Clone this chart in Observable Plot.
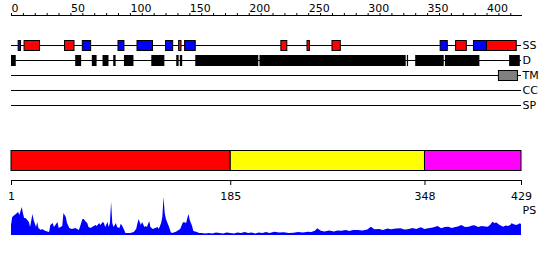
<!DOCTYPE html>
<html><head><meta charset="utf-8">
<script src="https://cdn.jsdelivr.net/npm/d3@7"></script>
<script src="https://cdn.jsdelivr.net/npm/@observablehq/plot@0.6"></script>
<style>
html,body{margin:0;padding:0;background:#fff;}
#chart{position:relative;width:550px;height:260px;overflow:hidden;font-family:"DejaVu Sans",sans-serif;}
#chart svg{position:absolute;left:0;overflow:visible;}
</style></head><body><div id="chart"></div>
<script>
const proteinLength = 429;
const tracks = ["SS","D","TM","CC","SP"];
const topTickValues = [0,10,20,30,40,50,60,70,80,90,100,110,120,130,140,150,160,170,180,190,200,210,220,230,240,250,260,270,280,290,300,310,320,330,340,350,360,370,380,390,400,410,420];
const topLabelValues = [0,50,100,150,200,250,300,350,400];
const helixStart = [11,45,141,227,249,270,374,400];
const helixEnd   = [24,53,143,232,251,277,383,425];
const strandStart = [6,60,90,106,130,146,361,389];
const strandEnd   = [8,67,95,119,136,155,367,400];
const disorderStart = [0,54,68,77,86,95,118,139,142,155,209,333,340,365,419];
const disorderEnd   = [4,59,72,82,88,103,129,141,144,208,332,334,364,394,428];
const tmStart = [410];
const tmEnd = [426];
const domainStart = [1,185,348];
const domainEnd = [185,348,429];
const domainTicks = [1,185,348,429];
const psPos = [
1,2,4,5,6,7,8,10,11,12,
13,14,16,17,19,20,22,23,24,26,
27,30,33,34,36,37,40,41,44,45,
47,48,50,52,55,58,61,62,64,65,
66,68,69,72,73,75,76,78,79,80,
82,83,84,85,86,87,89,90,92,93,
94,96,97,99,101,104,106,108,110,111,
113,114,115,117,118,120,122,124,125,127,
128,129,130,131,132,134,135,136,139,143,
145,146,148,149,150,151,153,154,157,159,
161,164,167,170,173,176,179,182,185,188,
191,194,197,200,203,206,209,212,215,218,
222,226,230,234,238,242,246,250,253,256,
258,261,264,268,272,275,278,282,285,288,
292,296,300,303,306,310,313,317,320,324,
328,331,334,338,341,345,348,351,355,359,
362,365,368,371,373,376,379,382,385,388,
390,393,396,399,401,403,405,407,408,410,
411,413,414,416,418,420,421,423,425,427,
428,429];
const psVal = [
10,18,20,21,22,23,20,28,22,17,
17,16,13,8,21,15,8,13,7,5,
6,4,3,10,12,8,13,7,9,22,
18,12,7,6,7,5,16,16,13,12,
8,7,8,10,9,12,10,13,12,8,
13,8,12,33,12,8,12,8,7,11,
10,5,2,2,2,3,6,16,10,13,
8,9,8,14,8,6,7,8,6,12,
18,38,22,16,13,7,3,2,3,6,
12,13,12,17,21,15,9,4,3,2,
2,1.5,2,1.5,2.5,2,1.5,2.5,2,1.5,
2.5,2,3,2,2.5,1.5,2.5,2,3,2,
3.3,2.5,2.7,2,2.3,3,2.5,3.3,3,4.3,
6.7,4.3,3.5,4.5,3.5,4.5,4.3,5,4,5,
5,4.5,5.5,8.3,5.7,6,5,6.5,5.7,6.5,
6.7,5.5,5.7,7,6,7.7,6,6.7,7.5,9,
6.7,8,8.3,7,7.7,8.5,10,8,8.3,9.5,
9.7,8,9,8.5,8.3,10,13.3,11.7,12.7,11,
10,9,8.3,9.5,9,10,11.7,10.7,10,11,
11.7,11];

const seg = (starts, ends, track, kind) => starts.map((s, i) => ({track, kind, start: s, end: ends[i]}));
const boxData = [
  ...seg(helixStart, helixEnd, "SS", "helix"),
  ...seg(strandStart, strandEnd, "SS", "strand"),
  ...seg(tmStart, tmEnd, "TM", "tm")
];
const disorderData = seg(disorderStart, disorderEnd, "D", "disorder");
const domainData = domainStart.map((s, i) => ({start: s, end: domainEnd[i], index: i}));
const psData = psPos.map((p, i) => ({pos: p, val: psVal[i]}));

const baseStyle = {fontFamily: "DejaVu Sans, sans-serif", fontSize: "11px", background: "none", overflow: "visible", color: "black"};
const chart = document.getElementById("chart");

const topPlot = Plot.plot({
  width: 550, height: 115, marginLeft: 11, marginRight: 29, marginTop: 15, marginBottom: 0,
  style: baseStyle,
  x: {domain: [0, proteinLength], axis: "top", ticks: topTickValues,
      tickFormat: d => topLabelValues.includes(d) ? String(d) : "",
      tickSize: 3, tickPadding: 1, label: null, line: true},
  y: {type: "band", domain: tracks, range: [37.5, 112.5], padding: 0, round: false, axis: null},
  color: {domain: ["helix","strand","disorder","tm"], range: ["#ff0000","#0000ff","#000000","#808080"]},
  marks: [
    Plot.ruleY(tracks, {y: d => d, x1: () => 0, x2: () => proteinLength, stroke: "black"}),
    Plot.barX(disorderData, {y: "track", x1: "start", x2: "end", fill: "kind", insetTop: 2.5, insetBottom: 1.5}),
    Plot.barX(boxData, {y: "track", x1: "start", x2: "end", fill: "kind", stroke: "black", insetTop: 3, insetBottom: 2}),
    Plot.text(tracks, {y: d => d, text: d => d, frameAnchor: "right", textAnchor: "start", dx: 1, fill: "black"})
  ]
});
topPlot.querySelectorAll('g[aria-label^="x-axis"] text').forEach(t => t.setAttribute("text-anchor", "start"));
topPlot.style.top = "0px";
chart.appendChild(topPlot);

const domPlot = Plot.plot({
  width: 550, height: 60, marginLeft: 11, marginRight: 29, marginTop: 10, marginBottom: 20,
  style: baseStyle,
  x: {domain: [1, proteinLength], ticks: domainTicks, tickFormat: d => String(d), tickSize: 5, tickPadding: 6.5, line: true, label: null},
  color: {type: "ordinal", domain: [0, 1, 2], range: ["#ff0000", "#ffff00", "#ff00ff"]},
  marks: [
    Plot.barX(domainData, {x1: "start", x2: "end", fill: "index", stroke: "black", insetTop: 0.5, insetBottom: 9.5})
  ]
});
domPlot.style.top = "140px";
chart.appendChild(domPlot);

const psPlot = Plot.plot({
  width: 550, height: 50, marginLeft: 11, marginRight: 29, marginTop: 7, marginBottom: 5,
  style: baseStyle,
  x: {domain: [1, proteinLength], axis: null},
  y: {domain: [0, 38], axis: null},
  marks: [
    Plot.areaY(psData, {x: "pos", y: "val", fill: "#0000ff"}),
    Plot.text(["PS"], {text: d => d, frameAnchor: "top-right", textAnchor: "start", lineAnchor: "top", dx: 1, dy: 9, fill: "black"})
  ]
});
psPlot.style.top = "190px";
chart.appendChild(psPlot);
</script></body></html>
